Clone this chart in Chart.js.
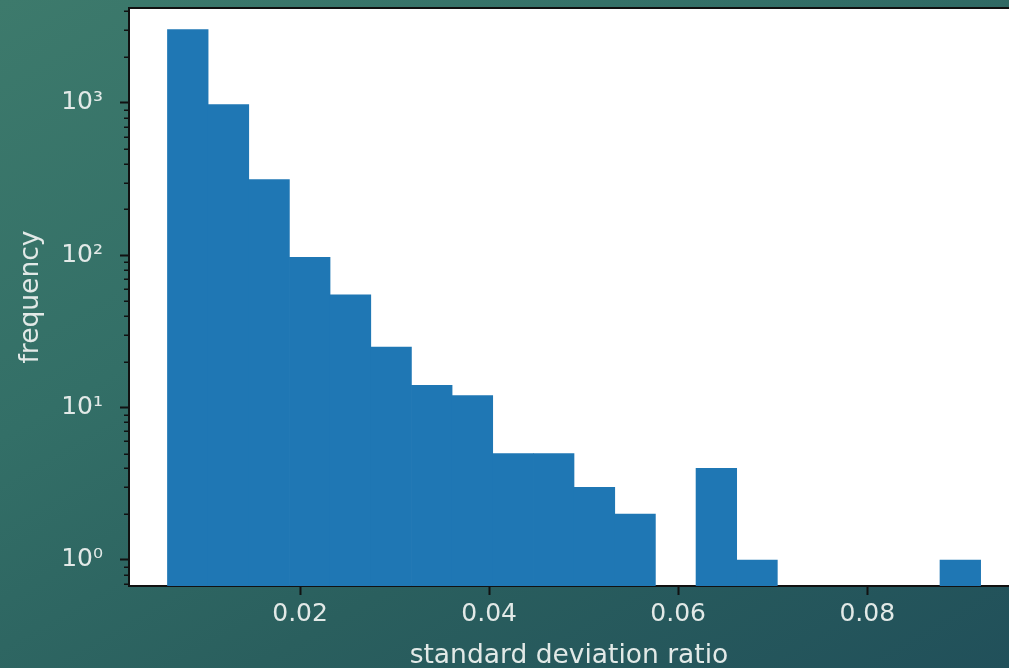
<!DOCTYPE html>
<html>
<head>
<meta charset="utf-8">
<script src="https://cdn.jsdelivr.net/npm/chart.js@4.4.1/dist/chart.umd.min.js"></script>
<style>
  html, body { margin: 0; padding: 0; overflow: hidden; }
  body {
    width: 1009px; height: 668px;
    background: linear-gradient(150deg, #3d7a6c 0%, #336f67 35%, #2a5f5e 65%, #21505a 100%);
  }
  canvas { display: block; }
</style>
</head>
<body>
<canvas id="hist" width="1009" height="668"></canvas>
<script>
// Histogram of standard deviation ratios (20 bins, log-scaled counts)
const binCenters = [0.00812, 0.01242, 0.01672, 0.02102, 0.02533, 0.02963, 0.03393, 0.03823, 0.04253, 0.04683,
                    0.05114, 0.05544, 0.05974, 0.06404, 0.06834, 0.07265, 0.07695, 0.08125, 0.08555, 0.08985];
const binCounts = [3030, 976, 314, 97, 55, 25, 14, 12, 5, 5,
                   3, 2, null, 4, 1, null, null, null, null, 1];

const xTickValues = [0.02, 0.04, 0.06, 0.08];
const yMajorTicks = [1, 10, 100, 1000];
const yMajorLabels = ['10\u2070', '10\u00b9', '10\u00b2', '10\u00b3'];
const yMinorTicks = [0.7, 0.8, 0.9, 2, 3, 4, 5, 6, 7, 8, 9, 20, 30, 40, 50, 60, 70, 80, 90,
                     200, 300, 400, 500, 600, 700, 800, 900, 2000, 3000, 4000];

const textColor = '#e2e9e7';
const spineColor = '#111111';
const fontFamily = "'DejaVu Sans', sans-serif";

// white axes face + top spine + minor log ticks
const framePlugin = {
  id: 'frame',
  beforeDraw(chart) {
    const { ctx, chartArea: a } = chart;
    ctx.save();
    ctx.fillStyle = '#ffffff';
    ctx.fillRect(a.left, a.top, a.right - a.left, a.bottom - a.top);
    ctx.restore();
  },
  afterDraw(chart) {
    const { ctx, chartArea: a } = chart;
    const y = chart.scales.y;
    ctx.save();
    ctx.strokeStyle = spineColor;
    ctx.lineWidth = 2;
    ctx.beginPath();
    ctx.moveTo(a.left, a.top);
    ctx.lineTo(a.right, a.top);
    ctx.stroke();
    ctx.lineWidth = 1.5;
    ctx.beginPath();
    yMinorTicks.forEach(v => {
      const py = Math.round(y.getPixelForValue(v)) + 0.25;
      ctx.moveTo(a.left - 5, py);
      ctx.lineTo(a.left, py);
    });
    ctx.stroke();
    ctx.restore();
  }
};

new Chart(document.getElementById('hist'), {
  type: 'bar',
  data: {
    datasets: [{
      data: binCenters.map((x, i) => ({ x: x, y: binCounts[i] })),
      backgroundColor: '#1f77b4',
      borderWidth: 0,
      barPercentage: 1.0,
      categoryPercentage: 1.0
    }]
  },
  options: {
    responsive: false,
    animation: false,
    devicePixelRatio: 1,
    layout: { padding: { top: 8, right: 0, bottom: 0, left: 0 } },
    plugins: { legend: { display: false }, tooltip: { enabled: false } },
    scales: {
      x: {
        type: 'linear',
        offset: false,
        min: 0.0019,
        max: 0.095,
        z: 1,
        afterBuildTicks(scale) { scale.ticks = xTickValues.map(v => ({ value: v })); },
        afterFit(scale) { scale.height = 82; scale.paddingLeft = 0; scale.paddingRight = 0; },
        grid: { offset: false, drawOnChartArea: false, drawTicks: true, tickLength: 9, tickColor: spineColor, tickWidth: 2 },
        border: { display: true, color: spineColor, width: 2 },
        ticks: {
          color: textColor,
          font: { family: fontFamily, size: 25 },
          padding: 4,
          maxRotation: 0,
          autoSkip: false,
          callback: v => v.toFixed(2)
        },
        title: {
          display: true,
          text: 'standard deviation ratio',
          color: textColor,
          font: { family: fontFamily, size: 26.5, lineHeight: 1.0 },
          padding: { top: 0, bottom: -1 }
        }
      },
      y: {
        type: 'logarithmic',
        min: 0.675,
        max: 4200,
        z: 1,
        afterBuildTicks(scale) { scale.ticks = yMajorTicks.map(v => ({ value: v, major: true })); },
        afterFit(scale) { scale.width = 129; scale.paddingTop = 0; scale.paddingBottom = 0; },
        grid: { drawOnChartArea: false, drawTicks: true, tickLength: 9, tickColor: spineColor, tickWidth: 2 },
        border: { display: true, color: spineColor, width: 2 },
        ticks: {
          color: textColor,
          font: { family: fontFamily, size: 25 },
          padding: 17,
          autoSkip: false,
          callback: (v) => {
            const i = yMajorTicks.indexOf(v);
            return i >= 0 ? yMajorLabels[i] : '';
          }
        },
        title: {
          display: true,
          text: 'frequency',
          color: textColor,
          font: { family: fontFamily, size: 26.5, lineHeight: 1.2 },
          padding: { top: 15, bottom: 0 }
        }
      }
    }
  },
  plugins: [framePlugin]
});
</script>
</body>
</html>
